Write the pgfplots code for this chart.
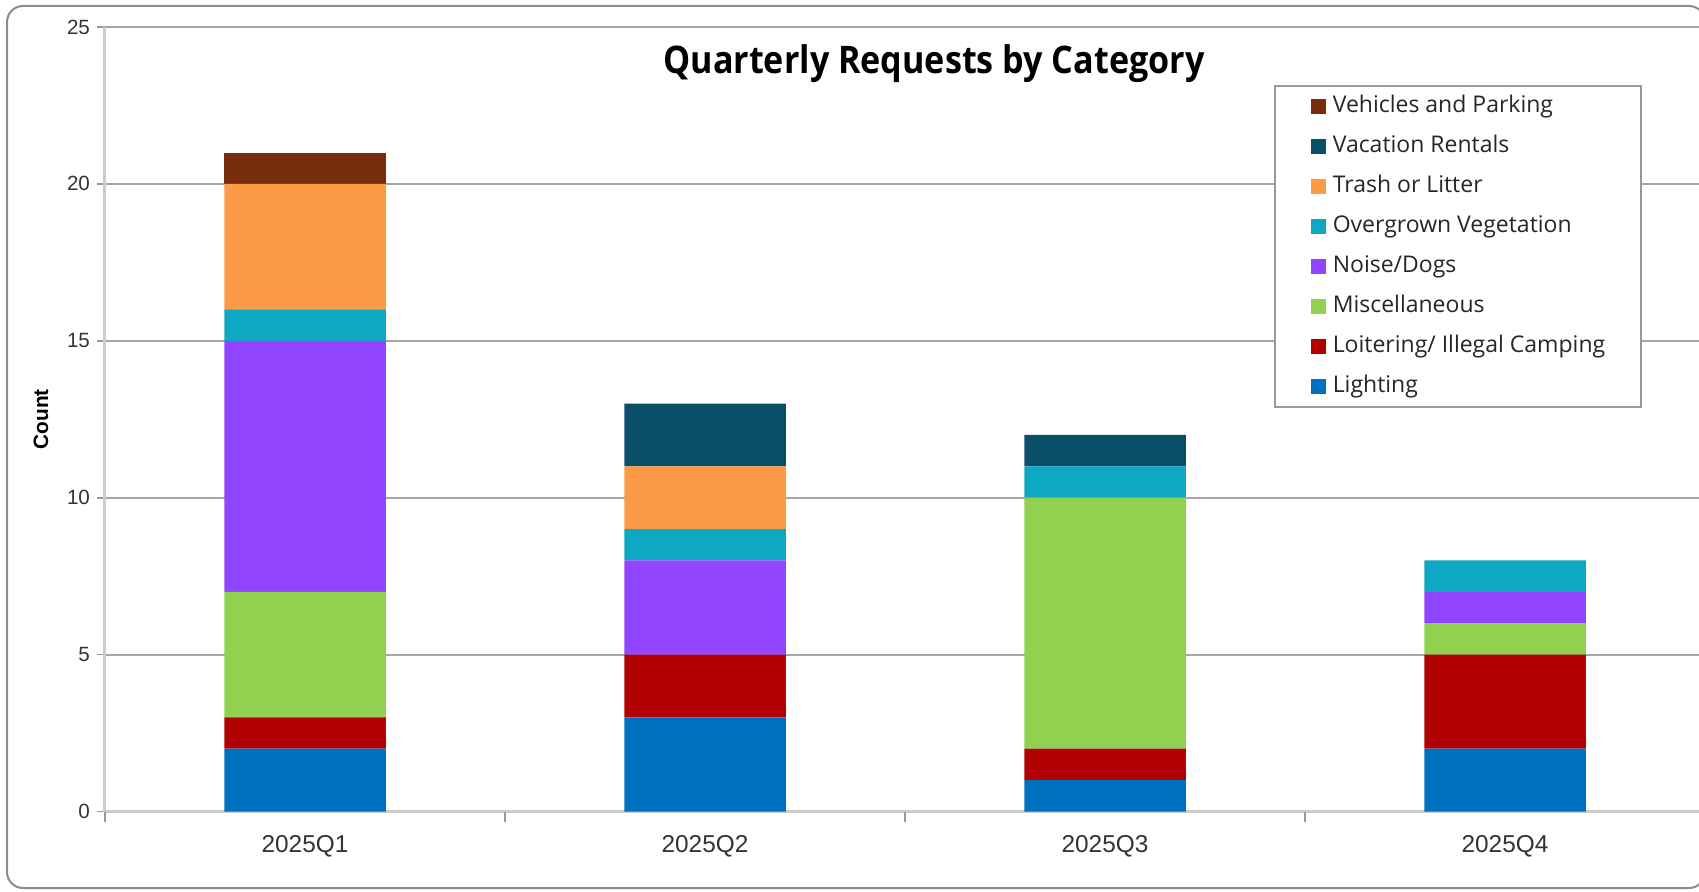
\documentclass[border=0pt]{standalone}
\usepackage{graphicx}
\usepackage{pgfplots}
\pgfplotsset{compat=1.18}
\usepackage{fontspec}
\setmainfont{Liberation Sans}
\newfontfamily\legfont{Open Sans}
\definecolor{cLight}{HTML}{0070C0}
\definecolor{cLoit}{HTML}{B30000}
\definecolor{cMisc}{HTML}{92D050}
\definecolor{cNoise}{HTML}{9145FF}
\definecolor{cOver}{HTML}{0EA8C3}
\definecolor{cTrash}{HTML}{FD9A45}
\definecolor{cVac}{HTML}{0A4F68}
\definecolor{cVeh}{HTML}{772C0B}
\begin{document}
\begin{tikzpicture}
\useasboundingbox (0,0) rectangle (849.5pt,445.5pt);
\draw[black!45, line width=1pt, rounded corners=8pt] (3.5pt,1.5pt) rectangle (852.5pt,442.5pt);
\begin{axis}[
  at={(52.5pt,39.75pt)}, anchor=south west,
  scale only axis, width=800pt, height=392.25pt,
  ybar stacked, bar width=80.75pt,
  xmin=-0.5, xmax=3.5, ymin=0, ymax=25,
  xtick={0,1,2,3}, xticklabels={2025Q1,2025Q2,2025Q3,2025Q4},
  major x tick style={draw=none},
  extra x ticks={-0.5,0.5,1.5,2.5}, extra x tick labels={},
  extra x tick style={grid=none, major tick length=5pt, major x tick style={draw=black!40, line width=0.8pt}},
  ytick={0,5,10,15,20,25},
  ymajorgrids, grid style={line width=0.9pt, color=black!35},
  axis x line*=bottom, axis y line*=left,
  axis line style={line width=1.5pt, color=black!20, -},
  tick align=outside, major tick length=4pt,
  tick style={line width=0.8pt, color=black!40},
  /pgf/number format/assume math mode=true,
  xticklabel style={font=\fontsize{12.2}{14}\selectfont, text=black!80, yshift=-4.5pt},
  yticklabel style={font=\fontsize{10.3}{12}\selectfont, text=black!80},
  ylabel={Count},
  ylabel style={font=\bfseries\fontsize{10.4}{12}\selectfont, at={(axis description cs:-0.04,0.5)}, anchor=center},
  reverse legend, legend cell align=left,
  legend image code/.code={\path[#1,draw=none] (0pt,-3.75pt) rectangle (7.5pt,3.75pt);},
  legend style={at={(0.7306,0.926)}, anchor=north west, draw=black!40, line width=0.8pt,
    font=\legfont\fontsize{11.5}{13}\selectfont, text=black!85,
    inner xsep=18pt, inner ysep=4.75pt, row sep=9pt, column sep=3.5pt,
    nodes={inner sep=0pt, text height=8.5pt, text depth=2.5pt, anchor=west}},
]
\addplot[fill=cLight, draw=none] coordinates {(0,2) (1,3) (2,1) (3,2)};
\addlegendentry{Lighting}
\addplot[fill=cLoit, draw=none] coordinates {(0,1) (1,2) (2,1) (3,3)};
\addlegendentry{Loitering/ Illegal Camping}
\addplot[fill=cMisc, draw=none] coordinates {(0,4) (1,0) (2,8) (3,1)};
\addlegendentry{Miscellaneous}
\addplot[fill=cNoise, draw=none] coordinates {(0,8) (1,3) (2,0) (3,1)};
\addlegendentry{Noise/Dogs}
\addplot[fill=cOver, draw=none] coordinates {(0,1) (1,1) (2,1) (3,1)};
\addlegendentry{Overgrown Vegetation}
\addplot[fill=cTrash, draw=none] coordinates {(0,4) (1,2) (2,0) (3,0)};
\addlegendentry{Trash or Litter}
\addplot[fill=cVac, draw=none] coordinates {(0,0) (1,2) (2,1) (3,0)};
\addlegendentry{Vacation Rentals}
\addplot[fill=cVeh, draw=none] coordinates {(0,1) (1,0) (2,0) (3,0)};
\addlegendentry{Vehicles and Parking}
\end{axis}
\node at (467pt,413.5pt) {\resizebox{270.5pt}{\height}{\legfont\bfseries\fontsize{19}{22}\selectfont Quarterly Requests by Category}};
\end{tikzpicture}
\end{document}
